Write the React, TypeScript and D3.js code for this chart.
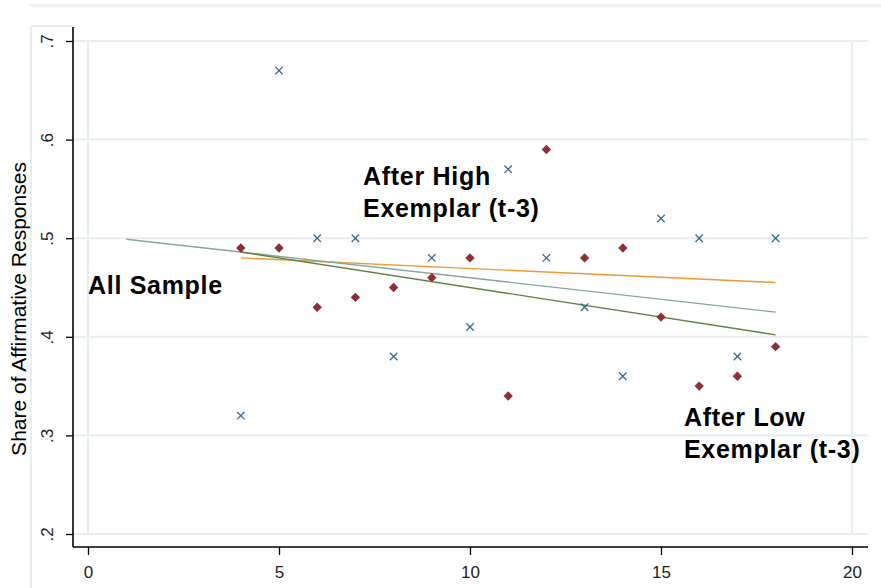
import React, { useEffect, useRef } from "react";
import * as d3 from "d3";

// period after the exemplar
const periods = [4, 5, 6, 7, 8, 9, 10, 11, 12, 13, 14, 15, 16, 17, 18];
// blue crosses and red diamonds
const crossShares = [0.32, 0.67, 0.5, 0.5, 0.38, 0.48, 0.41, 0.57, 0.48, 0.43, 0.36, 0.52, 0.5, 0.38, 0.5];
const diamondShares = [0.49, 0.49, 0.43, 0.44, 0.45, 0.46, 0.48, 0.34, 0.59, 0.48, 0.49, 0.42, 0.35, 0.36, 0.39];

// fitted lines, start and end points
const fitAll = [[1, 0.499], [18, 0.425]];
const fitHigh = [[4, 0.48], [18, 0.455]];
const fitLow = [[4, 0.486], [18, 0.402]];

const xTicks = [0, 5, 10, 15, 20];
const yTicks = [0.2, 0.3, 0.4, 0.5, 0.6, 0.7];

const notes = [
  { x: 7.2, y: 0.554, lines: ["After High", "Exemplar (t-3)"] },
  { x: 0, y: 0.443, lines: ["All Sample"] },
  { x: 15.6, y: 0.31, lines: ["After Low", "Exemplar (t-3)"] },
];

const App = () => {
  const svgRef = useRef(null);

  useEffect(() => {
    const width = 881;
    const height = 588;
    const font = "'Liberation Sans', Arial, sans-serif";
    const grid = "#e6eef1";

    const svg = d3.select(svgRef.current)
      .attr("width", width)
      .attr("height", height);
    svg.selectAll("*").remove();

    const x = d3.scaleLinear().domain([0, 20]).range([88, 852]);
    const y = d3.scaleLinear().domain([0.2, 0.7]).range([534, 41]);

    svg.append("rect").attr("width", width).attr("height", height).attr("fill", "#fff");

    // faint outer frame
    svg.append("path")
      .attr("d", "M29,5.5H881 M31,26V588 M31,26H73")
      .attr("stroke", grid).attr("stroke-width", 2).attr("fill", "none");

    // grid lines
    svg.append("g").selectAll("line")
      .data(yTicks)
      .enter().append("line")
      .attr("x1", 73).attr("x2", 868)
      .attr("y1", d => y(d)).attr("y2", d => y(d))
      .attr("stroke", grid).attr("stroke-width", 2);

    svg.append("g").selectAll("line")
      .data([0, 20])
      .enter().append("line")
      .attr("x1", d => x(d)).attr("x2", d => x(d))
      .attr("y1", y(0.7)).attr("y2", y(0.2))
      .attr("stroke", grid).attr("stroke-width", 2);

    // axes
    const yAxis = svg.append("g")
      .attr("transform", "translate(73,0)")
      .call(d3.axisLeft(y).tickValues(yTicks).tickSize(7).tickFormat(d => d3.format(".1f")(d).replace(/^0/, "")));
    yAxis.select(".domain").attr("d", `M0,27V547`).attr("stroke", "#000").attr("stroke-width", 1.6);
    yAxis.selectAll(".tick line").attr("stroke", "#000").attr("stroke-width", 1.3);
    yAxis.selectAll(".tick text")
      .attr("x", null).attr("dy", null)
      .attr("transform", "translate(-20,0) rotate(-90)")
      .attr("text-anchor", "middle")
      .attr("font-family", font).attr("font-size", 17).attr("fill", "#222");

    const xAxis = svg.append("g")
      .attr("transform", "translate(0,547)")
      .call(d3.axisBottom(x).tickValues(xTicks).tickSize(8).tickFormat(d3.format("d")));
    xAxis.select(".domain").attr("d", `M73,0H868`).attr("stroke", "#000").attr("stroke-width", 1.6);
    xAxis.selectAll(".tick line").attr("stroke", "#000").attr("stroke-width", 1.3);
    xAxis.selectAll(".tick text")
      .attr("y", 31).attr("dy", null)
      .attr("font-family", font).attr("font-size", 17).attr("fill", "#222");

    svg.append("text")
      .attr("transform", `translate(26,309) rotate(-90)`)
      .attr("text-anchor", "middle")
      .attr("font-family", font).attr("font-size", 21).attr("fill", "#000")
      .text("Share of Affirmative Responses");

    // fitted lines
    const line = d3.line().x(d => x(d[0])).y(d => y(d[1]));
    [[fitHigh, "#ee9a36"], [fitAll, "#86a59b"], [fitLow, "#5f8040"]].forEach(([pts, c]) => {
      svg.append("path")
        .attr("d", line(pts))
        .attr("fill", "none").attr("stroke", c).attr("stroke-width", 1.4);
    });

    // red diamonds
    svg.append("g").selectAll("path")
      .data(periods)
      .enter().append("path")
      .attr("d", d3.symbol().type(d3.symbolDiamond2).size(56))
      .attr("transform", (d, i) => `translate(${x(d)},${y(diamondShares[i])})`)
      .attr("fill", "#8c2f39");

    // blue crosses
    svg.append("g").selectAll("path")
      .data(periods)
      .enter().append("path")
      .attr("d", d3.symbol().type(d3.symbolX).size(38))
      .attr("transform", (d, i) => `translate(${x(d)},${y(crossShares[i])})`)
      .attr("fill", "none").attr("stroke", "#3a6a92").attr("stroke-width", 1.3);

    // annotations
    notes.forEach(n => {
      const t = svg.append("text")
        .attr("font-family", font).attr("font-size", 25).attr("font-weight", "bold")
        .attr("letter-spacing", 0.7).attr("fill", "#000");
      n.lines.forEach((s, i) => {
        t.append("tspan").attr("x", x(n.x)).attr("y", y(n.y) + i * 32).text(s);
      });
    });
  }, []);

  return <svg ref={svgRef} style={{ position: "absolute", left: 0, top: 0 }}></svg>;
};

export default App;
